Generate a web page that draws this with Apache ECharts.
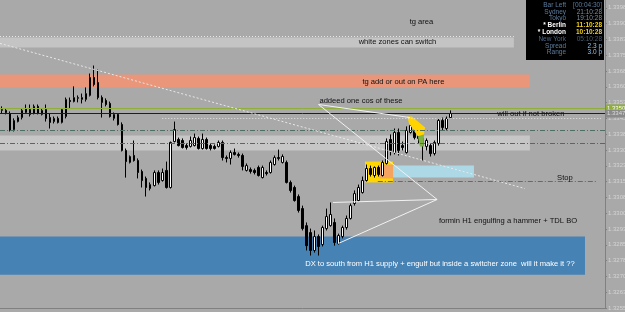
<!DOCTYPE html>
<html>
<head>
<meta charset="utf-8">
<script src="https://cdn.jsdelivr.net/npm/echarts@6/dist/echarts.min.js"></script>
<style>
  html, body { margin: 0; padding: 0; background: #a9a9a9; }
  #chart { width: 625px; height: 312px; }
</style>
</head>
<body>
<div id="chart"></div>
<script>
// candles (price)
const opens = [1.33493,1.33493,1.33478,1.33402,1.33440,1.33459,1.33483,1.33497,1.33478,1.33512,1.33474,1.33497,1.33459,1.33440,1.33455,1.33436,1.33464,1.33540,1.33535,1.33550,1.33545,1.33545,1.33564,1.33649,1.33625,1.33554,1.33540,1.33526,1.33455,1.33474,1.33426,1.33303,1.33246,1.33279,1.33255,1.33203,1.33170,1.33122,1.33136,1.33198,1.33160,1.33208,1.33127,1.33345,1.33355,1.33350,1.33326,1.33322,1.33326,1.33360,1.33312,1.33355,1.33326,1.33322,1.33322,1.33341,1.33269,1.33265,1.33293,1.33284,1.33279,1.33208,1.33212,1.33208,1.33222,1.33174,1.33198,1.33198,1.33236,1.33269,1.33246,1.33246,1.33151,1.33127,1.33084,1.33027,1.32946,1.32913,1.32828,1.32894,1.32856,1.32932,1.32946,1.32961,1.32861,1.32894,1.32937,1.32980,1.33051,1.33065,1.33103,1.33160,1.33217,1.33184,1.33222,1.33184,1.33241,1.33355,1.33293,1.33388,1.33326,1.33293,1.33388,1.33421,1.33374,1.33360,1.33322,1.33326,1.33288,1.33336,1.33445,1.33407,1.33459];
const closes = [1.33497,1.33483,1.33398,1.33445,1.33459,1.33493,1.33502,1.33474,1.33512,1.33478,1.33493,1.33455,1.33436,1.33455,1.33436,1.33497,1.33545,1.33535,1.33554,1.33554,1.33554,1.33573,1.33649,1.33616,1.33554,1.33531,1.33521,1.33464,1.33474,1.33426,1.33303,1.33250,1.33274,1.33255,1.33198,1.33160,1.33127,1.33141,1.33198,1.33151,1.33198,1.33127,1.33341,1.33402,1.33326,1.33317,1.33317,1.33350,1.33364,1.33312,1.33355,1.33312,1.33312,1.33312,1.33341,1.33269,1.33265,1.33293,1.33284,1.33279,1.33227,1.33231,1.33203,1.33198,1.33184,1.33222,1.33193,1.33246,1.33269,1.33265,1.33274,1.33151,1.33113,1.33065,1.33018,1.32932,1.32851,1.32828,1.32894,1.32847,1.32937,1.32989,1.32999,1.32866,1.32899,1.32937,1.32980,1.33041,1.33098,1.33127,1.33160,1.33217,1.33189,1.33222,1.33189,1.33246,1.33345,1.33303,1.33388,1.33303,1.33317,1.33398,1.33421,1.33364,1.33360,1.33326,1.33350,1.33288,1.33341,1.33445,1.33412,1.33455,1.33478];
const lows = [1.33478,1.33474,1.33393,1.33393,1.33436,1.33450,1.33478,1.33464,1.33474,1.33474,1.33469,1.33440,1.33407,1.33431,1.33431,1.33431,1.33455,1.33502,1.33531,1.33531,1.33526,1.33535,1.33559,1.33607,1.33545,1.33459,1.33512,1.33459,1.33445,1.33421,1.33298,1.33174,1.33241,1.33250,1.33170,1.33127,1.33084,1.33113,1.33132,1.33141,1.33155,1.33122,1.33122,1.33341,1.33322,1.33312,1.33307,1.33317,1.33322,1.33307,1.33307,1.33307,1.33303,1.33307,1.33317,1.33255,1.33246,1.33236,1.33279,1.33269,1.33208,1.33203,1.33193,1.33189,1.33179,1.33170,1.33184,1.33193,1.33231,1.33255,1.33241,1.33146,1.33103,1.33060,1.33008,1.32923,1.32828,1.32804,1.32818,1.32804,1.32847,1.32923,1.32941,1.32851,1.32856,1.32885,1.32927,1.32975,1.33041,1.33060,1.33098,1.33155,1.33179,1.33174,1.33179,1.33179,1.33236,1.33279,1.33284,1.33279,1.33303,1.33288,1.33383,1.33355,1.33336,1.33255,1.33303,1.33274,1.33279,1.33326,1.33398,1.33398,1.33455];
const highs = [1.33512,1.33502,1.33488,1.33455,1.33469,1.33502,1.33521,1.33521,1.33521,1.33521,1.33502,1.33521,1.33478,1.33464,1.33464,1.33502,1.33554,1.33554,1.33607,1.33564,1.33573,1.33602,1.33668,1.33706,1.33687,1.33564,1.33550,1.33535,1.33483,1.33478,1.33436,1.33312,1.33279,1.33350,1.33265,1.33212,1.33179,1.33151,1.33208,1.33208,1.33217,1.33250,1.33345,1.33440,1.33364,1.33360,1.33336,1.33369,1.33383,1.33369,1.33383,1.33364,1.33336,1.33331,1.33350,1.33350,1.33279,1.33303,1.33312,1.33293,1.33288,1.33241,1.33222,1.33217,1.33231,1.33231,1.33208,1.33255,1.33279,1.33307,1.33284,1.33255,1.33160,1.33136,1.33094,1.33041,1.32961,1.32932,1.32923,1.32904,1.32946,1.33027,1.33056,1.32980,1.32908,1.32946,1.32994,1.33051,1.33113,1.33141,1.33179,1.33236,1.33231,1.33227,1.33231,1.33255,1.33360,1.33379,1.33407,1.33407,1.33345,1.33417,1.33459,1.33431,1.33388,1.33369,1.33360,1.33336,1.33350,1.33455,1.33459,1.33464,1.33493];

const barCount = 151;
const priceMin = 1.32555;
const priceMax = 1.34017;
const priceStep = 0.00075;

// zones: top price, bottom price, last bar
const zoneTops = [1.33839, 1.33663, 1.33374, 1.32894];
const zoneBottoms = [1.33791, 1.33601, 1.33303, 1.32713];
const zoneEnds = [127.75, 131.75, 131.75, 145.5];

// small boxes near the breakout: bars from/to, prices top/bottom
const boxFrom = [90.6, 94.2, 97.6];
const boxTo = [97.6, 97.6, 117.8];
const boxTops = [1.33250, 1.33236, 1.33231];
const boxBottoms = [1.33151, 1.33170, 1.33174];

const greenLevel = 1.33502;
const bidLevel = 1.33478;
const dashLevels = [1.33398, 1.33336];
const dottedLevel = 1.33454;
const zoneTopDotted = 1.33844;
const stopLevel = 1.33155;

// trend lines: [bar, price] -> [bar, price]
const dottedTrend = [[-0.5, 1.33811], [130.5, 1.33122]];
const patternLines = [
  [[79, 1.33521], [101.8, 1.33459]],
  [[79, 1.33521], [108.6, 1.33070]],
  [[82.6, 1.33056], [108.6, 1.33070]],
  [[83.9, 1.32861], [108.6, 1.33070]]
];

// wedge marker shapes
const shapeBars = [[101.1, 102.3, 105.6, 105.3, 103.8, 101.6], [103.8, 105.3, 105.3, 104.3]];
const shapePrices = [[1.33464, 1.33464, 1.33412, 1.33379, 1.33369, 1.33431], [1.33369, 1.33379, 1.33322, 1.33322]];

// notes: text, bar, price
const noteTexts = ['tg area', 'white zones can switch', 'tg add or out on PA here', 'addeed one cos of these',
  'will out if not broken', 'Stop', 'formin H1 engulfing a hammer + TDL BO',
  'DX to south from H1 supply + engulf but inside a switcher zone  will it make it ??'];
const noteBars = [104.7, 98.7, 100.2, 89.6, 132.0, 140.5, 126.3, 109.3];
const notePrices = [1.33915, 1.33816, 1.33630, 1.33540, 1.33478, 1.33174, 1.32970, 1.32766];

// info panel
const panelLabels = ['Bar Left', 'Sydney', 'Tokyo', '* Berlin', '* London', 'New York', 'Spread', 'Range'];
const panelValues = ['[00:04:30]', '21:10:28', '19:10:28', '11:10:28', '10:10:28', '05:10:28', '2.3 p', '3.0 p'];

const categories = [];
for (let i = 0; i < barCount; i++) categories.push(String(i));
const candles = opens.map((o, i) => [o, closes[i], lows[i], highs[i]]);

const font = 'Liberation Sans';
const chart = echarts.init(document.getElementById('chart'));

const labelColor = ['#5d7d9f', '#5d7d9f', '#5d7d9f', '#ffffff', '#ffffff', '#4c6684', '#5d7d9f', '#5d7d9f'];
const valueColor = ['#5d7d9f', '#7f8ea0', '#7f8ea0', '#f2d21b', '#f2d21b', '#4c5c6c', '#8ec3ee', '#8ec3ee'];
const panelChildren = [{ type: 'rect', shape: { x: 0, y: 0, width: 78, height: 60 }, style: { fill: '#000' } }];
panelLabels.forEach((t, i) => {
  const y = 5 + i * 6.8;
  const bold = i === 3 || i === 4 ? 'bold ' : '';
  panelChildren.push({ type: 'text', style: { text: t, x: 40, y, align: 'right', verticalAlign: 'middle', fill: labelColor[i], font: bold + '6.5px "Liberation Sans"' } });
  panelChildren.push({ type: 'text', style: { text: panelValues[i], x: 76, y, align: 'right', verticalAlign: 'middle', fill: valueColor[i], font: bold + '6.5px "Liberation Sans"' } });
});

const zoneColors = ['#c4c4c4', '#e9967a', '#c6c6c6', '#4682b4'];
const boxColors = ['#ffd700', '#f4a460', '#add8e6'];
const shapeColors = ['#ffd400', '#7cb342'];

// a horizontal segment across the whole plot
const fullLine = (v, style, label) => [
  { coord: [-0.5, v], lineStyle: style, label: label || { show: false } },
  { coord: [barCount - 0.5, v] }
];

chart.setOption({
  backgroundColor: '#a9a9a9',
  animation: false,
  grid: { left: 0, right: 20, top: 0, bottom: 4, containLabel: false, outerBoundsMode: 'none' },
  xAxis: [
    {
      type: 'category', data: categories, boundaryGap: true,
      axisLine: { onZero: false, lineStyle: { color: '#808080' } },
      axisTick: { interval: 7, length: 3, lineStyle: { color: '#808080' } },
      axisLabel: { show: false }, splitLine: { show: false }
    },
    { type: 'value', min: -0.5, max: barCount - 0.5, show: false, axisLine: { onZero: false } }
  ],
  yAxis: {
    type: 'value', position: 'right', min: priceMin, max: priceMax, interval: priceStep,
    axisLine: { show: true, onZero: false, lineStyle: { color: '#808080' } },
    axisTick: { show: true, length: 2, lineStyle: { color: '#808080' } },
    axisLabel: { color: '#d4d4d4', fontSize: 6, margin: 3, fontFamily: font, showMaxLabel: false, formatter: v => v.toFixed(5) },
    splitLine: { show: false }
  },
  graphic: [{ type: 'group', x: 526, y: 0, children: panelChildren }],
  series: [
    {
      name: 'zones', type: 'line', xAxisIndex: 1, data: [], silent: true,
      markArea: {
        silent: true,
        data: zoneTops.map((t, i) => [
          { coord: [-0.5, t], itemStyle: { color: zoneColors[i], opacity: 1 } },
          { coord: [zoneEnds[i], zoneBottoms[i]] }
        ]).concat(boxTops.map((t, i) => [
          { coord: [boxFrom[i], t], itemStyle: { color: boxColors[i], opacity: 1 } },
          { coord: [boxTo[i], boxBottoms[i]] }
        ]))
      }
    },
    {
      name: 'EURUSD', type: 'candlestick', data: candles, barWidth: 2, z: 3,
      itemStyle: { color: '#ffffff', color0: '#000000', borderColor: '#000000', borderColor0: '#000000', borderWidth: 1 }
    },
    {
      name: 'shapes', type: 'custom', xAxisIndex: 1, z: 4, silent: true,
      data: shapeBars.map((b, i) => [i, priceMin]),
      renderItem: (params, api) => {
        const k = params.dataIndex;
        const pts = shapeBars[k].map((b, j) => api.coord([b, shapePrices[k][j]]));
        return { type: 'polygon', shape: { points: pts }, style: { fill: shapeColors[k] } };
      }
    },
    {
      name: 'lines', type: 'line', xAxisIndex: 1, data: [], silent: true,
      markLine: {
        silent: true, symbol: ['none', 'none'], label: { show: false }, z: 5,
        data: [
          fullLine(greenLevel, { color: '#8fae3a', width: 1, type: 'solid' },
            { show: true, position: 'end', distance: 1, formatter: greenLevel.toFixed(5), backgroundColor: '#8fae3a', color: '#ffffff', fontSize: 6, padding: [1, 1], fontFamily: font }),
          fullLine(bidLevel, { color: '#1e1e1e', width: 1, type: 'solid' },
            { show: true, position: 'end', distance: 1, formatter: bidLevel.toFixed(5), backgroundColor: '#8a8a8a', color: '#dcdcdc', fontSize: 6, padding: [1, 1], fontFamily: font }),
          ...dashLevels.map(v => fullLine(v, { color: '#4d6e60', width: 1, type: [5, 2, 1, 2] })),
          [{ coord: [40, dottedLevel], lineStyle: { color: '#e6e6e6', width: 1, type: [1, 2] } }, { coord: [149.5, dottedLevel] }],
          [{ coord: [-0.5, zoneTopDotted], lineStyle: { color: '#e6e6e6', width: 1, type: [1, 2] } }, { coord: [zoneEnds[0], zoneTopDotted] }],
          [{ coord: [93.8, stopLevel], lineStyle: { color: '#b34a3c', width: 1, type: [5, 2, 1, 2] } }, { coord: [148.5, stopLevel] }],
          [{ coord: dottedTrend[0], lineStyle: { color: '#e8e8e8', width: 1, type: [2, 2] } }, { coord: dottedTrend[1] }],
          ...patternLines.map(l => [{ coord: l[0], lineStyle: { color: '#f2f2f2', width: 1, type: 'solid' } }, { coord: l[1] }])
        ]
      },
      markPoint: {
        silent: true, symbol: 'circle', symbolSize: 0, z: 6,
        label: { show: true, position: 'inside', formatter: p => p.name, color: '#111111', fontSize: 7.6, fontFamily: font },
        data: noteTexts.map((t, i) => ({
          name: t, coord: [noteBars[i], notePrices[i]],
          label: i === noteTexts.length - 1 ? { color: '#ffffff' } : {}
        }))
      }
    }
  ]
});

window.addEventListener('resize', () => chart.resize());
</script>
</body>
</html>
